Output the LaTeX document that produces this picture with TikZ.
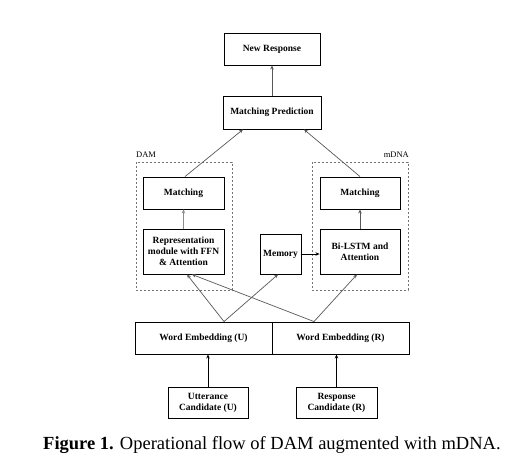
\documentclass[tikz,border=0pt]{standalone}
\usepackage{fontspec}
\setmainfont{Liberation Serif}
\usetikzlibrary{arrows.meta}
\begin{document}
\begin{tikzpicture}[x=1pt,y=-1pt,
  box/.style={draw=black,line width=0.9pt,fill=white,inner sep=1pt,align=center,
    font=\fontsize{9.5}{11}\selectfont\bfseries},
  grp/.style={draw=black!55,line width=0.9pt,dash pattern=on 2pt off 2pt},
  conn/.style={draw=black!65,line width=0.7pt,-{Stealth[length=4pt,width=3.5pt]}},
  lbl/.style={font=\fontsize{8.5}{10}\selectfont,inner sep=0pt}]
\useasboundingbox (0,0) rectangle (527,467);
\fill[white] (0,0) rectangle (527,467);
% groups
\draw[grp] (136,162) rectangle (232,290);
\draw[grp] (312,162) rectangle (408,290);
\node[lbl,anchor=south west] (damlbl) at (136,158) {DAM};
\node[lbl,anchor=south east] (mdnalbl) at (409,158) {mDNA};
% boxes
\node[box,minimum width=96pt,minimum height=32pt] (newresp) at (272,49) {New Response};
\node[box,minimum width=98pt,minimum height=33pt] (matchpred) at (272,112.5) {Matching Prediction};
\node[box,minimum width=81pt,minimum height=32pt] (mleft) at (183.5,193) {Matching};
\node[box,minimum width=81pt,minimum height=45pt] (rep) at (183.5,251.5) {Representation\\module with FFN\\\& Attention};
\node[box,minimum width=80pt,minimum height=32pt] (mright) at (360,193) {Matching};
\node[box,minimum width=80pt,minimum height=45pt] (bilstm) at (360,251.5) {Bi-LSTM and\\Attention};
\node[box,minimum width=41pt,minimum height=40pt] (memory) at (280.5,254) {Memory};
\node[box,minimum width=137pt,minimum height=32pt] (weU) at (203.5,338) {Word Embedding (U)};
\node[box,minimum width=137pt,minimum height=32pt] (weR) at (340.5,338) {Word Embedding (R)};
\node[box,minimum width=80pt,minimum height=31pt] (utt) at (208,402.5) {Utterance\\Candidate (U)};
\node[box,minimum width=81pt,minimum height=31pt] (resc) at (336.5,402.5) {Response\\Candidate (R)};
% connectors
\draw[conn] (matchpred.north) -- (newresp.south);
\draw[conn] ([xshift=1.5pt]mleft.north) -- ([xshift=-29pt]matchpred.south);
\draw[conn] (mright.north) -- ([xshift=32pt]matchpred.south);
\draw[conn,draw=black!45] (rep.north) -- (mleft.south);
\draw[conn] (bilstm.north) -- (mright.south);
\draw[conn,draw=black] (memory.east) -- (bilstm.west |- memory.east);
\draw[conn] ([xshift=20.5pt]weU.north) -- ([xshift=3.5pt]rep.south);
\draw[conn] ([xshift=20.5pt]weU.north) -- ([xshift=-2.5pt]memory.south);
\draw[conn] ([xshift=-26.5pt]weR.north) -- ([xshift=8.5pt]rep.south);
\draw[conn] ([xshift=-26.5pt]weR.north) -- ([xshift=-3pt]bilstm.south);
\draw[conn,draw=black] (utt.north) -- (weU.south -| utt.north);
\draw[conn,draw=black] (resc.north) -- (weR.south -| resc.north);
% caption
\node[anchor=base west,inner sep=0pt,font=\fontsize{18.5}{22}\selectfont] (cap) at (43,449)
  {\textbf{Figure 1.} Operational flow of DAM augmented with mDNA.};
\end{tikzpicture}
\end{document}
